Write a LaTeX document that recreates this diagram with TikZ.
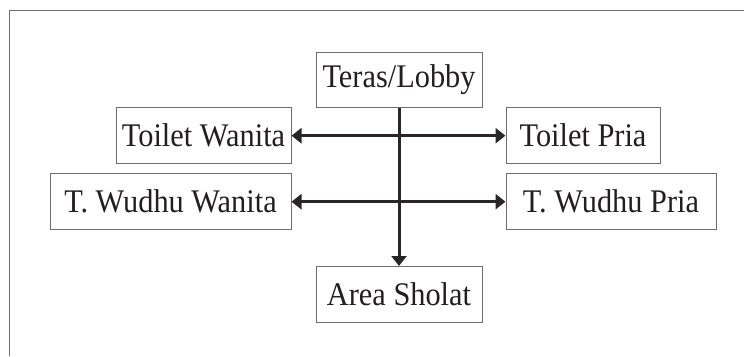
\documentclass[tikz,border=0pt]{standalone}
\usepackage{fontspec}
\setmainfont[FakeStretch=0.92]{Liberation Serif}
\usetikzlibrary{arrows.meta}
\definecolor{boxline}{HTML}{6E6E6E}
\definecolor{arrline}{HTML}{2A2626}
\definecolor{txt}{HTML}{231F20}
\tikzset{
  box/.style={draw=boxline, line width=1pt, fill=white, text=txt, inner sep=0pt,
    font=\fontsize{33}{38}\selectfont},
  conn/.style={draw=arrline, line width=3pt, -{Triangle[length=10pt,width=15pt]}},
  dconn/.style={draw=arrline, line width=3pt, {Triangle[length=10pt,width=15pt]}-{Triangle[length=10pt,width=15pt]}},
}
\begin{document}
\begin{tikzpicture}[x=1pt,y=-1pt]
\useasboundingbox[fill=white] (0,0) rectangle (744,356);
\draw[draw=boxline, line width=1.5pt] (9.5,356) -- (9.5,10.7) -- (744,10.7);
\node[box, minimum width=166pt, minimum height=55pt] (teras) at (399,79.8) {Teras/Lobby};
\node[box, minimum width=175pt, minimum height=56pt] (tw) at (203.5,135.7) {Toilet Wanita};
\node[box, minimum width=154pt, minimum height=56pt] (tp) at (583,135.7) {Toilet Pria};
\node[box, minimum width=241pt, minimum height=56pt] (ww) at (170.5,201.7) {T. Wudhu Wanita};
\node[box, minimum width=210pt, minimum height=56pt] (wp) at (611,201.7) {T. Wudhu Pria};
\node[box, minimum width=166pt, minimum height=56pt] (sholat) at (399,294.5) {Area Sholat};
\draw[conn] (teras.south) -- (sholat.north);
\draw[dconn] (tw.east) -- (tp.west);
\draw[dconn] (ww.east) -- (wp.west);
\end{tikzpicture}
\end{document}
